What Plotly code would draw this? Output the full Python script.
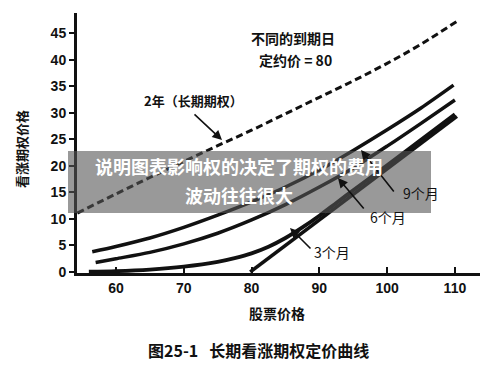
import plotly.graph_objects as go

# ---- data ----
stock_2y = [54.3, 60, 65, 70, 75, 80, 85, 90, 95, 100, 105, 110.4]
call_2y = [11.1, 14.7, 17.8, 20.8, 23.8, 26.7, 29.8, 32.9, 36.0, 39.3, 42.9, 47.3]

stock_9m = [56.5, 60, 65, 70, 75, 80, 85, 90, 95, 100, 105, 109.8]
call_9m = [3.8, 4.8, 6.4, 8.4, 10.7, 13.2, 16.0, 19.2, 22.9, 26.8, 30.9, 35.2]

stock_6m = [57, 60, 65, 70, 75, 80, 85, 90, 95, 100, 105, 110]
call_6m = [1.8, 2.5, 3.7, 5.3, 7.3, 9.8, 12.7, 16.0, 19.6, 23.7, 28.0, 32.4]

stock_3m = [56, 60, 65, 70, 75, 77.5, 80, 82.5, 85, 87.5, 90, 92.5, 95, 100, 105, 110]
call_3m = [0.05, 0.15, 0.45, 1.0, 1.9, 2.6, 3.5, 4.75, 6.4, 8.4, 10.6, 13.0, 15.4, 20.1, 24.9, 29.7]

stock_intr = [79.8, 110.3]
call_intr = [0, 29.3]

x_ticks = [60, 70, 80, 90, 100, 110]
y_ticks = [0, 5, 10, 15, 20, 25, 30, 35, 40, 45]

CJK = "Noto Sans CJK SC"
NUM = "Liberation Sans"

fig = go.Figure()
fig.add_trace(go.Scatter(x=stock_2y, y=call_2y, mode="lines",
                         line=dict(color="#111", width=3, dash="7px,4px", shape="spline"),
                         showlegend=False))
for xs, ys, w in [(stock_9m, call_9m, 3.5), (stock_6m, call_6m, 3.5),
                  (stock_3m, call_3m, 3.8), (stock_intr, call_intr, 3.5)]:
    fig.add_trace(go.Scatter(x=xs, y=ys, mode="lines",
                             line=dict(color="#111", width=w, shape="spline", smoothing=0.8),
                             showlegend=False))

fig.update_layout(
    width=500, height=365,
    margin=dict(l=77, r=20, t=13, b=92),
    paper_bgcolor="white", plot_bgcolor="white",
    xaxis=dict(range=[54.25, 113.7], tickvals=x_ticks, showgrid=False, zeroline=False,
               showline=True, linewidth=3, linecolor="#111",
               ticks="inside", ticklen=6, tickwidth=2, tickcolor="#111",
               tickfont=dict(family=NUM, size=14, color="#111", weight="bold")),
    yaxis=dict(range=[-0.19, 48.78], tickvals=y_ticks, showgrid=False, zeroline=False,
               showline=True, linewidth=3, linecolor="#111",
               ticks="outside", ticklen=5, tickwidth=2, tickcolor="#111",
               tickfont=dict(family=NUM, size=14, color="#111", weight="bold")),
)

def txt(x, y, s, size=13, bold=True, color="#111"):
    fig.add_annotation(xref="paper", yref="paper", x=(x - 77) / 403, y=(273 - y) / 260,
                       text=s, showarrow=False, xanchor="center", yanchor="middle",
                       font=dict(family=CJK, size=size, color=color,
                                 weight="bold" if bold else "normal"))

def arrow(hx, hy, tx, ty):
    fig.add_annotation(xref="paper", yref="paper", x=(hx - 77) / 403, y=(273 - hy) / 260,
                       ax=tx - hx, ay=ty - hy, text="", showarrow=True,
                       arrowhead=2, arrowsize=1.2, arrowwidth=1.6, arrowcolor="#111")

txt(293, 38, "不同的到期日", 14)
txt(295, 60, "定约价 = 80", 14)
txt(193, 100, "2年（长期期权）", 13)
arrow(222, 140, 193, 113)
arrow(361, 150, 395, 193)
arrow(338, 178, 365, 210)
arrow(290, 228, 312, 250)
txt(421, 193, "9个月", 14, bold=False)
txt(388, 217, "6个月", 14, bold=False)
txt(332, 252, "3个月", 14, bold=False)

txt(277, 313, "股票价格", 14)
txt(258, 350, "图25-1   长期看涨期权定价曲线", 16)
fig.add_annotation(xref="paper", yref="paper", x=(22 - 77) / 403, y=(273 - 149) / 260,
                   text="看涨期权价格", showarrow=False, textangle=-90,
                   xanchor="center", yanchor="middle",
                   font=dict(family=CJK, size=13, color="#111", weight="bold"))

# translucent overlay banner
fig.add_shape(type="rect", xref="paper", yref="paper",
              x0=(68 - 77) / 403, x1=(431 - 77) / 403,
              y0=(273 - 213) / 260, y1=(273 - 151) / 260,
              fillcolor="rgba(85,85,85,0.6)", line=dict(width=0), layer="above")
txt(239, 166, "说明图表影响权的决定了期权的费用", 18, color="white")
txt(239, 195, "波动往往很大", 18, color="white")

fig.write_html("out.html")
